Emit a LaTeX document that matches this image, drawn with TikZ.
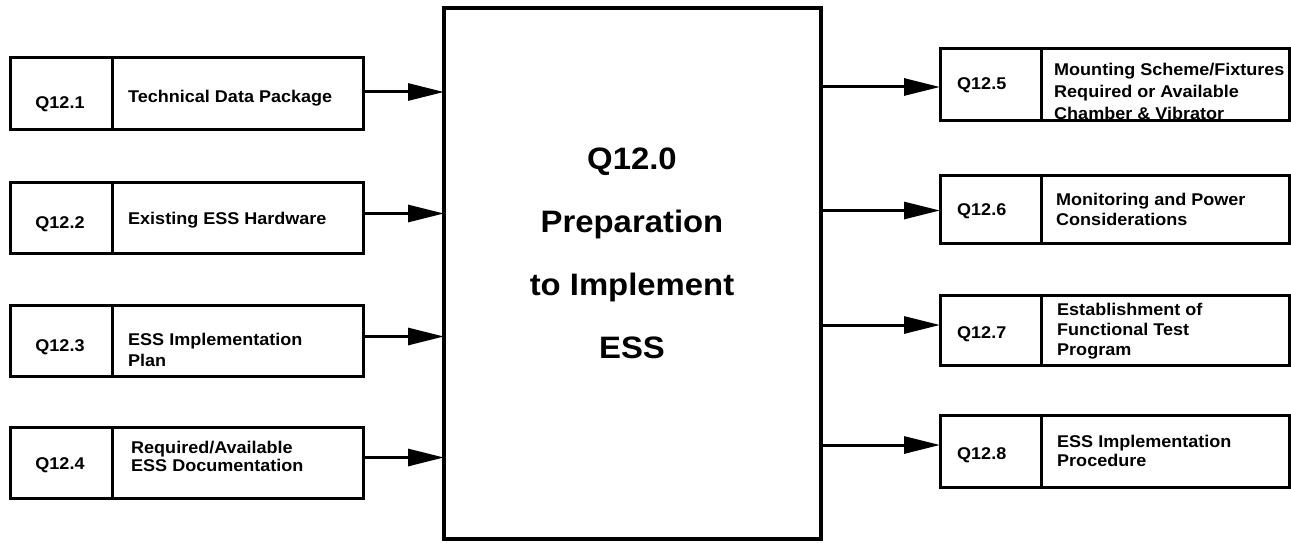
\documentclass[tikz,border=0pt]{standalone}
\usepackage{fontspec}
\newfontfamily\hb{Liberation Sans}[FakeStretch=1.06]
\usetikzlibrary{arrows.meta}
\begin{document}
\begin{tikzpicture}[x=1pt,y=-1pt,
  cell/.style={draw, line width=3pt, anchor=north west, minimum height=71pt, inner sep=0pt, outer sep=0pt},
  qcell/.style={cell, minimum width=102pt},
  tcell/.style={cell, minimum width=251pt},
  small/.style={font={\hb\bfseries\fontsize{17}{19}\selectfont}, inner sep=0pt},
  txt/.style={small, anchor=west, align=left},
  arr/.style={line width=3pt, -{Triangle[length=36pt,width=17pt]}}]
\useasboundingbox (0,0) rectangle (1291,543);
% central box
\node[draw, line width=3.5pt, anchor=north west, minimum width=377pt, minimum height=531pt, inner sep=0pt, outer sep=0pt] (c) at (444,8) {};
\node[font={\hb\bfseries\fontsize{31}{63}\selectfont}, align=center, inner sep=0pt] (ct) at (632,253) {Q12.0\\Preparation\\to Implement\\ESS};
% left boxes
\node[qcell] (q1) at (10,58) {};
\node[tcell] (t1) at (q1.north east) {};
\node[small] (q1l) at (60,104) {Q12.1};
\node[txt] (t1l) at (128,98) {Technical Data Package};
\node[qcell] (q2) at (10,182) {};
\node[tcell] (t2) at (q2.north east) {};
\node[small] (q2l) at (60,224) {Q12.2};
\node[txt] (t2l) at (128,220) {Existing ESS Hardware};
\node[qcell] (q3) at (10,305) {};
\node[tcell] (t3) at (q3.north east) {};
\node[small] (q3l) at (60,347) {Q12.3};
\node[txt, font={\hb\bfseries\fontsize{17}{21}\selectfont}] (t3l) at (128,350) {ESS Implementation\\Plan};
\node[qcell] (q4) at (10,427) {};
\node[tcell] (t4) at (q4.north east) {};
\node[small] (q4l) at (60,465) {Q12.4};
\node[txt, font={\hb\bfseries\fontsize{17}{18}\selectfont}] (t4l) at (131,456) {Required/Available\\ESS Documentation};
% right boxes
\node[qcell, minimum width=101pt] (q5) at (940,49) {};
\node[tcell, minimum width=248pt] (t5) at (q5.north east) {};
\node[small, anchor=west] (q5l) at (957,85) {Q12.5};
\node[txt, font={\hb\bfseries\fontsize{17}{22}\selectfont}] (t5l) at (1054,91) {Mounting Scheme/Fixtures\\Required or Available\\Chamber \& Vibrator};
\node[qcell, minimum width=101pt, minimum height=68pt] (q6) at (940,175) {};
\node[tcell, minimum width=248pt, minimum height=68pt] (t6) at (q6.north east) {};
\node[small, anchor=west] (q6l) at (957,211) {Q12.6};
\node[txt, font={\hb\bfseries\fontsize{17}{20}\selectfont}] (t6l) at (1056,209) {Monitoring and Power\\Considerations};
\node[qcell, minimum width=101pt, minimum height=70pt] (q7) at (940,295) {};
\node[tcell, minimum width=248pt, minimum height=70pt] (t7) at (q7.north east) {};
\node[small, anchor=west] (q7l) at (957,334) {Q12.7};
\node[txt, font={\hb\bfseries\fontsize{17}{20}\selectfont}] (t7l) at (1057,331) {Establishment of\\Functional Test\\Program};
\node[qcell, minimum width=101pt, minimum height=72pt] (q8) at (940,415) {};
\node[tcell, minimum width=248pt, minimum height=72pt] (t8) at (q8.north east) {};
\node[small, anchor=west] (q8l) at (957,455) {Q12.8};
\node[txt, font={\hb\bfseries\fontsize{17}{19}\selectfont}] (t8l) at (1057,451) {ESS Implementation\\Procedure};
% arrows in
\coordinate (a1) at ([yshift=1.5pt]t1.east);
\coordinate (a2) at ([yshift=4pt]t2.east);
\coordinate (a3) at ([yshift=4pt]t3.east);
\coordinate (a4) at ([yshift=5pt]t4.east);
\foreach \a in {a1,a2,a3,a4} \draw[arr] (\a) -- (\a -| c.west);
% arrows out
\coordinate (b5) at ([yshift=-2.5pt]q5.west);
\coordinate (b6) at ([yshift=-1.5pt]q6.west);
\coordinate (b7) at ([yshift=5pt]q7.west);
\coordinate (b8) at ([yshift=6pt]q8.west);
\foreach \b in {b5,b6,b7,b8} \draw[arr] (\b -| c.east) -- (\b);
\end{tikzpicture}
\end{document}
